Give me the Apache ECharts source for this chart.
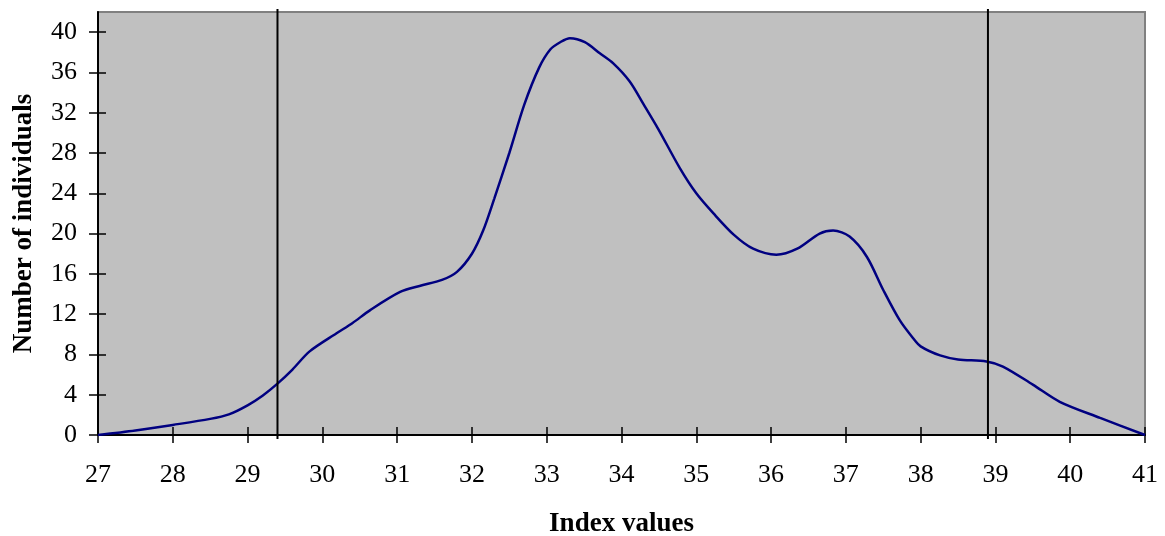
<!DOCTYPE html>
<html>
<head>
<meta charset="utf-8">
<script src="https://cdn.jsdelivr.net/npm/echarts@6/dist/echarts.min.js"></script>
<style>html,body{margin:0;padding:0;background:#fff}#c{width:1165px;height:536px}</style>
</head>
<body>
<div id="c"></div>
<script>
// Data
var indexValues = [27, 27.5, 28, 28.5, 28.75, 29, 29.2, 29.4, 29.6, 29.83, 30.19, 30.4, 30.64, 31.04, 31.3, 31.6, 31.8, 32.0, 32.15, 32.3, 32.5, 32.7, 32.9, 33.05, 33.18, 33.31, 33.51, 33.71, 33.89, 34.11, 34.29, 34.49, 34.78, 35.0, 35.23, 35.5, 35.76, 36.07, 36.35, 36.65, 36.83, 37.05, 37.28, 37.5, 37.72, 37.9, 38.0, 38.26, 38.5, 38.88, 39.1, 39.5, 39.86, 40.4, 41];
var individuals = [0, 0.45, 1.0, 1.6, 2.05, 2.95, 3.9, 5.1, 6.5, 8.3, 10.1, 11.1, 12.4, 14.2, 14.8, 15.4, 16.2, 18.0, 20.3, 23.5, 28.0, 32.8, 36.5, 38.3, 39.0, 39.4, 39.0, 37.9, 36.9, 35.1, 32.9, 30.4, 26.5, 24.0, 22.0, 19.9, 18.5, 17.9, 18.5, 20.0, 20.3, 19.7, 17.7, 14.4, 11.4, 9.6, 8.8, 7.9, 7.5, 7.3, 6.8, 5.0, 3.3, 1.7, 0];
var cutoffs = [29.4, 38.9];
var cutoffSpan = [-0.4, 42.3];
var yTicks = [0, 4, 8, 12, 16, 20, 24, 28, 32, 36, 40];
var xMin = 27, xMax = 41, yMin = 0, yMax = 42;
var xName = 'Index values';
var yName = 'Number of individuals';

var font = 'Liberation Serif';
var gridL = 98, gridT = 12, gridR = 20, gridB = 101;
var gridW = 1165 - gridL - gridR, gridH = 536 - gridT - gridB;

var curve = indexValues.map(function (x, i) { return [x, individuals[i]]; });
var series = [{
  type: 'line', data: curve, smooth: 0.3, symbol: 'none',
  lineStyle: { color: '#000080', width: 2.5 }, z: 3
}];
cutoffs.forEach(function (c) {
  series.push({
    type: 'line', clip: false, symbol: 'none', silent: true,
    data: [[c, cutoffSpan[0]], [c, cutoffSpan[1]]],
    lineStyle: { color: '#000', width: 2 }, z: 4
  });
});

var chart = echarts.init(document.getElementById('c'), null, { renderer: 'canvas' });
chart.setOption({
  animation: false,
  backgroundColor: '#fff',
  grid: { left: gridL, top: gridT, right: gridR, bottom: gridB, show: true,
          containLabel: false, outerBoundsMode: 'none',
          backgroundColor: '#C0C0C0', borderColor: '#808080', borderWidth: 2 },
  xAxis: [{
    type: 'value', min: xMin, max: xMax, interval: 1, position: 'bottom',
    name: xName, nameLocation: 'middle', nameGap: 76,
    nameTextStyle: { fontFamily: font, fontWeight: 'bold', fontSize: 27, color: '#000' },
    axisLine: { show: true, onZero: false, lineStyle: { color: '#000', width: 2 } },
    axisTick: { show: true, length: 8, lineStyle: { color: '#000', width: 1.5 } },
    axisLabel: { fontFamily: font, fontSize: 26, color: '#000', margin: 27 },
    splitLine: { show: false }
  }, {
    type: 'value', min: xMin, max: xMax, interval: 1, position: 'top', offset: -gridH,
    axisLine: { show: false },
    axisTick: { show: true, length: 8, lineStyle: { color: '#000', width: 1.5 } },
    axisLabel: { show: false }, splitLine: { show: false }
  }],
  yAxis: [{
    type: 'value', min: yMin, max: yMax, position: 'left',
    name: yName, nameLocation: 'middle', nameGap: 60,
    nameTextStyle: { fontFamily: font, fontWeight: 'bold', fontSize: 27, color: '#000' },
    axisLine: { show: true, onZero: false, lineStyle: { color: '#000', width: 2 } },
    axisTick: { show: true, length: 9, customValues: yTicks, lineStyle: { color: '#000', width: 1.5 } },
    axisLabel: { fontFamily: font, fontSize: 26, color: '#000', margin: 21, customValues: yTicks },
    splitLine: { show: false }
  }, {
    type: 'value', min: yMin, max: yMax, position: 'right', offset: -gridW,
    axisLine: { show: false },
    axisTick: { show: true, length: 8, customValues: yTicks, lineStyle: { color: '#000', width: 1.5 } },
    axisLabel: { show: false }, splitLine: { show: false }
  }],
  series: series
});
</script>
</body>
</html>
